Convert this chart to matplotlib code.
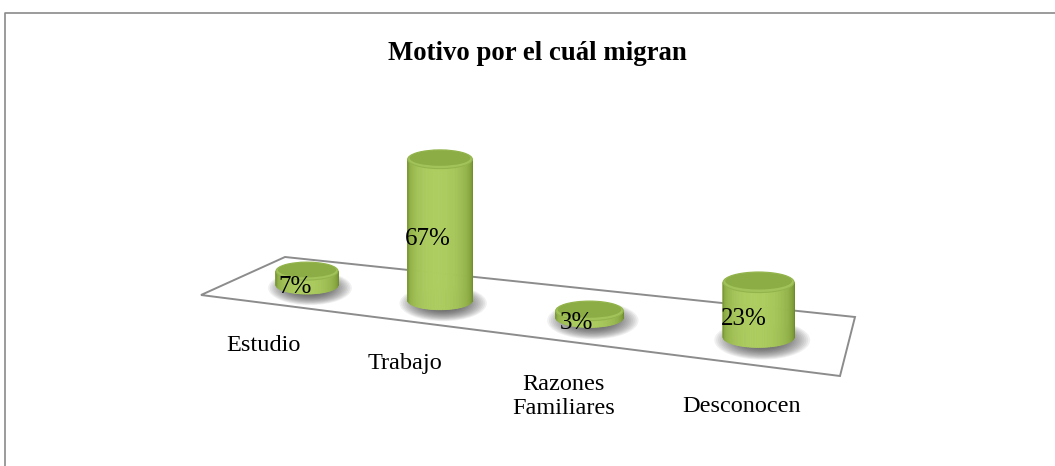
import numpy as np
import matplotlib
matplotlib.use("Agg")
import matplotlib.pyplot as plt
from matplotlib.patches import Polygon, Ellipse
from matplotlib.collections import PolyCollection
from matplotlib.colors import to_rgb

# ---------------------------
# Datos
# ---------------------------
titulo = "Motivo por el cuál migran"
categorias = ["Estudio", "Trabajo", "Razones\nFamiliares", "Desconocen"]
porcentajes = [7, 67, 3, 23]

# ---------------------------
# Proyección "3D" sencilla (en píxeles de la figura)
# ---------------------------
X0, Y0 = 307, 285      # base del primer cilindro
B, SY = 125.7, 14.5    # paso entre categorías
P = 0.055              # perspectiva
PX_POR_PCT = 1.99
RADIO = 31
ELIPSE = 0.29
PISO_X = [201, 285, 855, 840]
PISO_Y = [295, 257, 317, 376]

VERDE_OSC = np.array(to_rgb("#6b8a2a"))
VERDE_CLA = np.array(to_rgb("#adcd60"))
FUENTE = "Liberation Serif"


def escala(u):
    return 1.0 / (1.0 - P * u)


def base(u):
    s = escala(u)
    return X0 + s * B * u, Y0 + s * SY * u


def sombra(ax, cx, cy, rx, ry):
    for k in range(16):
        f = 1.0 - k * 0.04
        ax.add_patch(Ellipse((cx, cy), 2 * rx * f, 2 * ry * f,
                             facecolor="#3c3c3c", edgecolor="none",
                             alpha=0.075, zorder=2))


def cilindro(ax, cx, cy, rx, ry, h):
    # cuerpo en franjas con degradado
    th = np.linspace(0, np.pi, 61)
    polys, cols = [], []
    for a, b in zip(th[:-1], th[1:]):
        xa, xb = cx + rx * np.cos(a), cx + rx * np.cos(b)
        ya, yb = cy + ry * np.sin(a), cy + ry * np.sin(b)
        polys.append([(xa, ya), (xb, yb), (xb, yb - h), (xa, ya - h)])
        m = 0.5 * (a + b)
        luz = max(0.0, np.sin(m - 0.12)) ** 0.7
        cols.append(VERDE_OSC + (VERDE_CLA - VERDE_OSC) * luz)
    ax.add_collection(PolyCollection(polys, facecolors=cols, edgecolors=cols,
                                     linewidths=0.6, zorder=3))
    # tapa
    ax.add_patch(Ellipse((cx, cy - h), 2 * rx, 2 * ry, facecolor="#a2c35a",
                         edgecolor="#93b44c", lw=0.8, zorder=4))
    ax.add_patch(Ellipse((cx, cy - h - ry * 0.12), 2 * rx * 0.94, 2 * ry * 0.82,
                         facecolor="#8cac45", edgecolor="none", zorder=4))


fig = plt.figure(figsize=(10.55, 4.66), dpi=100)
ax = fig.add_axes([0, 0, 1, 1])
ax.set_xlim(0, 1055)
ax.set_ylim(466, 0)
ax.axis("off")

# marco del gráfico
ax.plot([4.5, 4.5, 1060], [470, 12.5, 12.5], color="#8a8a8a", lw=1.2, zorder=1)

ax.text(537, 53, titulo, ha="center", va="center", fontsize=19.3,
        fontweight="bold", family=FUENTE)

# piso
ax.add_patch(Polygon(list(zip(PISO_X, PISO_Y)), closed=True, facecolor="white",
                     edgecolor="#8c8c8c", lw=1.4, zorder=1))

for i, (cat, v) in enumerate(zip(categorias, porcentajes)):
    s = escala(i)
    cx, cy = base(i)
    rx = RADIO * s ** 0.75
    ry = rx * ELIPSE
    h = v * PX_POR_PCT * s
    sombra(ax, cx + 3 * s, cy + 3, rx * 1.35, ry * 1.9)
    cilindro(ax, cx, cy, rx, ry, h)
    ax.text(cx - 12 * s, cy - h / 2 + 9, f"{v}%", ha="center", va="center",
            fontsize=18, family=FUENTE, zorder=10)
    ax.text(cx - 44 + 9 * i, cy + 50 + 3 * i, cat, ha="center", va="top",
            fontsize=17.5, family=FUENTE, linespacing=1.2, zorder=10)

fig.savefig("out.png", dpi=100)
